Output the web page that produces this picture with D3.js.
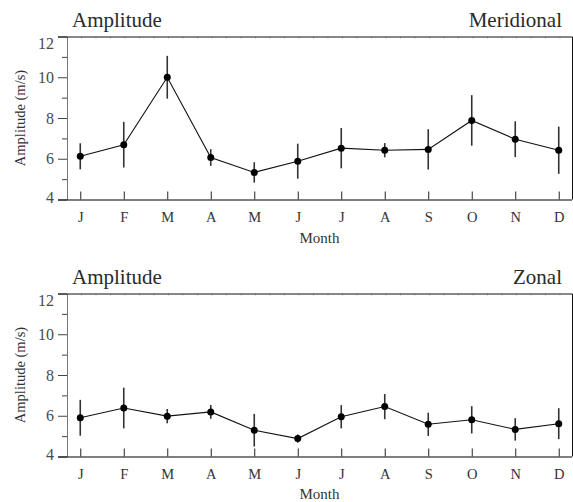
<!DOCTYPE html>
<html>
<head>
<meta charset="utf-8">
<script src="https://cdn.jsdelivr.net/npm/d3@7"></script>
<style>
  body { margin: 0; background: #fff; }
</style>
</head>
<body>
<svg id="chart"></svg>
<script>
const months = ["J", "F", "M", "A", "M", "J", "J", "A", "S", "O", "N", "D"]
const yTicks = [4, 6, 8, 10, 12]
const yMinor = [5, 7, 9, 11]

const meridional = [6.12, 6.69, 10.0, 6.06, 5.33, 5.88, 6.52, 6.42, 6.46, 7.88, 6.96, 6.42]
const meridionalErr = [0.64, 1.12, 1.05, 0.41, 0.5, 0.86, 0.99, 0.35, 0.99, 1.24, 0.88, 1.16]

const zonal = [5.9, 6.38, 5.98, 6.19, 5.29, 4.88, 5.95, 6.45, 5.58, 5.8, 5.33, 5.61]
const zonalErr = [0.88, 1.0, 0.35, 0.34, 0.8, 0.2, 0.57, 0.62, 0.57, 0.67, 0.55, 0.76]

const titles = ["Meridional", "Zonal"]

const serif = "'Liberation Serif', 'DejaVu Serif', serif"

let w = 573,
    h = 502
let svg = d3.select("#chart").attr("width", w).attr("height", h)

let x = d3.scalePoint()
    .domain(d3.range(12))
    .range([67, 572])
    .padding(0.305)

function panel(top, bottom, values, errs, title, monthGap) {
    let y = d3.scaleLinear().domain([4, 12]).range([bottom, top])
    let g = svg.append("g").attr("font-family", serif)

    // faint ticks under the top border
    let step = x.step() / 3
    g.selectAll(".topTick")
        .data(d3.range(67 + step, 572, step))
        .enter().append("line")
        .attr("x1", d => d).attr("x2", d => d)
        .attr("y1", top).attr("y2", top + 2)
        .attr("stroke", "#ccc")

    // minor y ticks
    g.append("g")
        .attr("transform", "translate(67,0)")
        .call(d3.axisLeft(y).tickValues(yMinor).tickSize(5).tickSizeOuter(0).tickFormat(""))
        .call(a => a.select(".domain").remove())
        .selectAll("line").attr("stroke", "#444")

    // major y ticks
    let ya = g.append("g")
        .attr("transform", "translate(67,0)")
        .call(d3.axisLeft(y).tickValues(yTicks).tickSize(9).tickSizeOuter(0).tickPadding(4))
    ya.select(".domain").attr("stroke", "#777")
    ya.selectAll("line").attr("stroke", "#444")
    ya.selectAll("text")
        .attr("font-family", serif)
        .attr("font-size", 16)
        .attr("fill", "#4a4a4a")
        .attr("dy", d => d == 12 ? "0.75em" : d == 4 ? "0.2em" : "0.32em")

    // x axis
    let xa = g.append("g")
        .attr("transform", "translate(0," + bottom + ")")
        .call(d3.axisBottom(x).tickSizeInner(-8).tickSizeOuter(0).tickPadding(12).tickFormat(i => months[i]))
    xa.select(".domain").attr("d", "M58,0.5H572")
    xa.selectAll("line").attr("stroke", "#222")
    xa.selectAll("text")
        .attr("font-family", serif)
        .attr("font-size", 14.5)
        .attr("fill", "#333")

    // top and right border
    g.append("path")
        .attr("d", "M58," + (top + 0.5) + "H572.5V" + bottom)
        .attr("fill", "none")
        .attr("stroke", "#111")

    // error bars
    g.selectAll(".err")
        .data(values)
        .enter().append("line")
        .attr("x1", (d, i) => x(i)).attr("x2", (d, i) => x(i))
        .attr("y1", (d, i) => y(d - errs[i]))
        .attr("y2", (d, i) => y(d + errs[i]))
        .attr("stroke", "#333")
        .attr("stroke-width", 1.6)

    let line = d3.line()
        .x((d, i) => x(i))
        .y(d => y(d))
    g.append("path")
        .datum(values)
        .attr("d", line)
        .attr("fill", "none")
        .attr("stroke", "#111")
        .attr("stroke-width", 1.1)

    g.selectAll(".pt")
        .data(values)
        .enter().append("circle")
        .attr("cx", (d, i) => x(i))
        .attr("cy", d => y(d))
        .attr("r", 3.5)
        .attr("fill", "#000")

    // titles
    g.append("text")
        .attr("x", 72).attr("y", top - 10)
        .attr("font-family", serif)
        .attr("font-size", 21)
        .attr("fill", "#2a2a2a")
        .text("Amplitude")
    g.append("text")
        .attr("x", 562).attr("y", top - 10)
        .attr("text-anchor", "end")
        .attr("font-family", serif)
        .attr("font-size", 21)
        .attr("fill", "#2a2a2a")
        .text(title)

    g.append("text")
        .attr("transform", "translate(20," + ((top + bottom) / 2) + ") rotate(-90)")
        .attr("text-anchor", "middle")
        .attr("dy", "0.35em")
        .attr("font-family", serif)
        .attr("font-size", 14.5)
        .attr("fill", "#333")
        .text("Amplitude (m/s)")

    g.append("text")
        .attr("x", 319.5).attr("y", bottom + monthGap)
        .attr("text-anchor", "middle")
        .attr("font-family", serif)
        .attr("font-size", 15)
        .attr("fill", "#333")
        .text("Month")
}

panel(36.5, 199.5, meridional, meridionalErr, titles[0], 43)
panel(293.5, 456.5, zonal, zonalErr, titles[1], 42)
</script>
</body>
</html>
